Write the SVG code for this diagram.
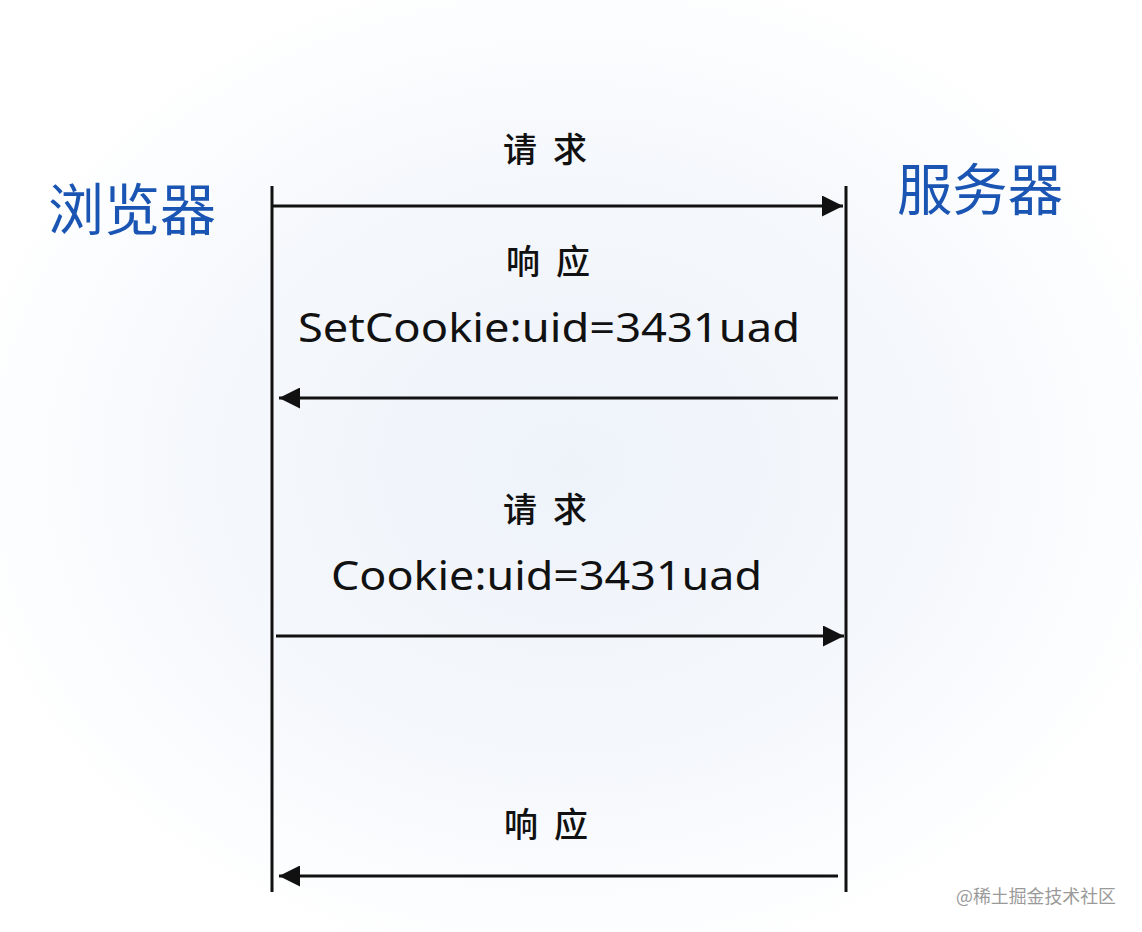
<svg xmlns="http://www.w3.org/2000/svg" width="1142" height="932" viewBox="0 0 1142 932">
<defs>
<radialGradient id="bg" cx="0.5" cy="0.5" r="0.55">
<stop offset="0" stop-color="#eef3fa"/>
<stop offset="0.6" stop-color="#f5f8fc"/>
<stop offset="1" stop-color="#ffffff"/>
</radialGradient>
<marker id="ah" viewBox="0 0 10 10" refX="10" refY="5" markerWidth="7" markerHeight="7" markerUnits="strokeWidth" orient="auto">
<path d="M0,0 L10,5 L0,10 z" fill="#111"/>
</marker>
</defs>
<style>
.ll{stroke:#111;stroke-width:3;fill:none}
.msg{stroke:#111;stroke-width:3;fill:none;marker-end:url(#ah)}
.lbl{font-family:"Noto Sans CJK SC","Noto Sans",sans-serif;font-size:34px;font-weight:500;fill:#111}
.code{font-family:"Noto Sans","Noto Sans CJK SC",sans-serif;font-size:40px;fill:#111}
.actor{font-family:"Noto Sans CJK SC",sans-serif;font-size:56px;fill:#1a55b3}
.wm{font-family:"Noto Sans CJK SC",sans-serif;font-size:18px;fill:#9a9a9a}
</style>
<rect width="1142" height="932" fill="url(#bg)"/>
<g id="browser">
<text class="actor" x="48" y="230" textLength="168" lengthAdjust="spacingAndGlyphs">浏览器</text>
<line class="ll" x1="272" y1="186" x2="272" y2="892"/>
</g>
<g id="server">
<text class="actor" x="897" y="210" textLength="166" lengthAdjust="spacingAndGlyphs">服务器</text>
<line class="ll" x1="846" y1="186" x2="846" y2="892"/>
</g>
<g id="connectors">
<line class="msg" x1="272" y1="206" x2="843" y2="206"/>
<line class="msg" x1="838" y1="398" x2="279" y2="398"/>
<line class="msg" x1="276" y1="636" x2="844" y2="636"/>
<line class="msg" x1="838" y1="876" x2="279" y2="876"/>
</g>
<g id="labels">
<text class="lbl" x="503" y="162" textLength="84">请求</text>
<text class="lbl" x="506" y="274" textLength="84">响应</text>
<text class="code" x="298" y="342" textLength="502" lengthAdjust="spacingAndGlyphs">SetCookie:uid=3431uad</text>
<text class="lbl" x="503" y="522" textLength="84">请求</text>
<text class="code" x="331" y="590" textLength="431" lengthAdjust="spacingAndGlyphs">Cookie:uid=3431uad</text>
<text class="lbl" x="504" y="837" textLength="84">响应</text>
</g>
<text class="wm" x="956" y="903" textLength="160" lengthAdjust="spacingAndGlyphs">@稀土掘金技术社区</text>
</svg>
